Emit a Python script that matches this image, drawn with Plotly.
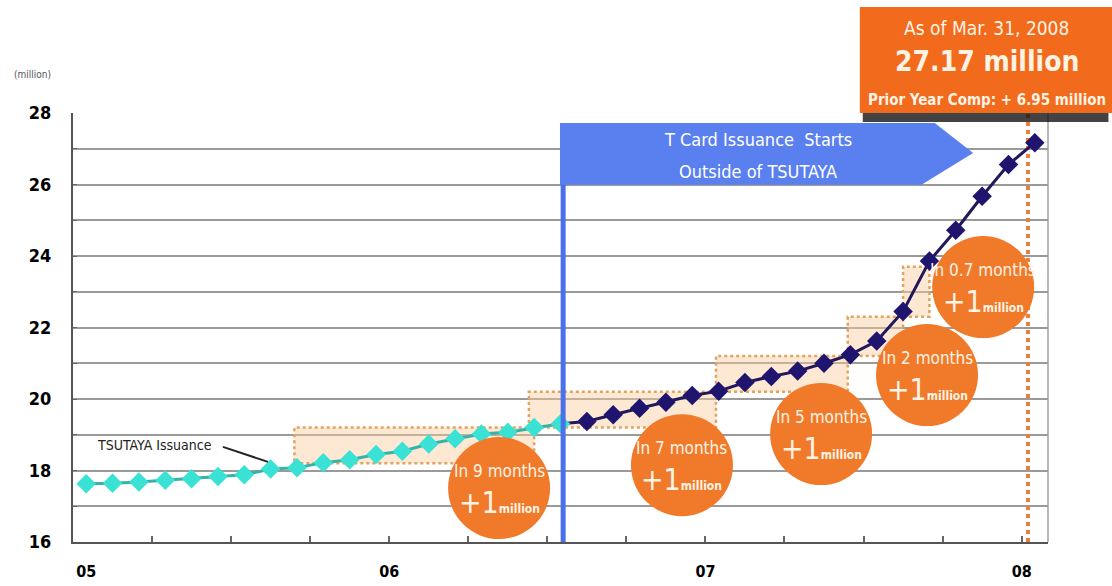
import plotly.graph_objects as go

# ---------------- data ----------------
months = list(range(37))  # 0 = first month of the '05 period, one point per month
values = [17.63, 17.64, 17.68, 17.73, 17.77, 17.83, 17.88, 18.04, 18.08, 18.22,
          18.30, 18.45, 18.54, 18.74, 18.89, 19.02, 19.07, 19.20, 19.31, 19.37,
          19.56, 19.74, 19.91, 20.10, 20.22, 20.46, 20.63, 20.78, 21.00, 21.24,
          21.62, 22.45, 23.86, 24.72, 25.67, 26.56, 27.17]
split_index = 18  # last month of TSUTAYA-only issuance

year_label_positions = [0.0, 11.5, 23.5, 35.5]
year_labels = ["05", "06", "07", "08"]
quarter_ticks = [-0.5 + 3 * k for k in range(13)]

y_ticks = list(range(16, 29))
y_tick_labels = [str(v) if v % 2 == 0 else "" for v in y_ticks]

step_x0 = [7.9, 16.8, 23.9, 28.9, 31.0]
step_x1 = [17.0, 23.9, 28.9, 31.0, 32.0]
step_y0 = [18.2, 19.2, 20.2, 21.2, 22.3]
step_y1 = [19.2, 20.2, 21.2, 22.3, 23.7]

circle_labels = ["In 9 months", "In 7 months", "In 5 months", "In 2 months", "In 0.7 months"]
circle_x = [15.67, 22.61, 27.89, 31.91, 34.04]
circle_y = [17.51, 18.15, 19.02, 20.67, 23.13]

FONT = "DejaVu Sans Condensed, Liberation Sans Narrow, sans-serif"
ORANGE = "#f07a2a"
BLUE = "#4a70ea"
CREAM = "#fff3e4"

fig = go.Figure()

# outside-TSUTAYA series (drawn first, starts at the split point)
fig.add_trace(go.Scatter(
    x=months[split_index:], y=values[split_index:], mode="lines+markers",
    line=dict(color="#22185a", width=3),
    marker=dict(symbol="diamond", size=[0] + [15] * (len(months) - split_index - 1),
                color="#20156e", opacity=1, line=dict(width=0)),
    showlegend=False, hoverinfo="skip"))

# TSUTAYA series
fig.add_trace(go.Scatter(
    x=months[:split_index + 1], y=values[:split_index + 1], mode="lines+markers",
    line=dict(color="#34b3ab", width=3),
    marker=dict(symbol="diamond", size=15, color="#3ae2d6", opacity=1, line=dict(width=0)),
    showlegend=False, hoverinfo="skip"))

# invisible trace to carry the quarter tick axis
fig.add_trace(go.Scatter(x=[None], y=[None], xaxis="x2", showlegend=False, hoverinfo="skip"))

shapes = []
for x0, x1, y0, y1 in zip(step_x0, step_x1, step_y0, step_y1):
    shapes.append(dict(type="rect", xref="x", yref="y", x0=x0, x1=x1, y0=y0, y1=y1,
                       fillcolor="rgba(250,205,160,0.45)",
                       line=dict(color="#e2a35c", width=2.5, dash="dot"),
                       layer="between"))

# right border of plot
shapes.append(dict(type="line", xref="paper", yref="paper", x0=1, x1=1, y0=0, y1=1,
                   line=dict(color="#a0a0a0", width=1.5), layer="between"))

# orange dotted line at end of period
shapes.append(dict(type="line", xref="x", yref="y", x0=35.74, x1=35.74, y0=16, y1=28,
                   line=dict(color="#ef7d3a", width=4, dash="dot"), layer="between"))

# blue vertical line + arrow
shapes.append(dict(type="line", xref="x", yref="y", x0=18.1, x1=18.1, y0=16, y1=27.72,
                   line=dict(color=BLUE, width=5), layer="above"))
shapes.append(dict(type="path", xref="x", yref="y",
                   path="M 17.98,27.72 L 32.2,27.72 L 33.66,26.88 L 31.7,25.99 L 17.98,25.99 Z",
                   fillcolor="#5a80f0", line=dict(width=0), layer="above"))

# orange circles
for cx, cy in zip(circle_x, circle_y):
    shapes.append(dict(type="circle", xref="x", yref="y", xsizemode="pixel", ysizemode="pixel",
                       xanchor=cx, yanchor=cy, x0=-51, x1=51, y0=-51, y1=51,
                       fillcolor=ORANGE, line=dict(width=0), layer="above"))

# top-right callout box: shadow + box
shapes.append(dict(type="rect", xref="paper", yref="paper",
                   x0=0.810, x1=1.062, y0=0.979, y1=1.005,
                   fillcolor="rgba(20,20,20,0.8)", line=dict(width=0), layer="above"))
shapes.append(dict(type="rect", xref="paper", yref="paper",
                   x0=0.807, x1=1.07, y0=1.0, y1=1.247,
                   fillcolor="#f26a1b", line=dict(width=0), layer="above"))

annotations = []
for lab, cx, cy in zip(circle_labels, circle_x, circle_y):
    annotations.append(dict(
        x=cx, y=cy, xref="x", yref="y", showarrow=False, xanchor="center", yanchor="middle",
        yshift=17, text=lab, font=dict(family=FONT, size=17, color=CREAM)))
    annotations.append(dict(
        x=cx, y=cy, xref="x", yref="y", showarrow=False, xanchor="center", yanchor="middle",
        yshift=-14,
        text="<span style='font-size:30px'>+1</span><b><span style='font-size:12px'>million</span></b>",
        font=dict(family=FONT, size=12, color=CREAM)))

annotations += [
    dict(x=25.5, y=27.245, xref="x", yref="y", showarrow=False, xanchor="center",
         text="T Card Issuance  Starts", font=dict(family=FONT, size=18, color="white")),
    dict(x=25.5, y=26.35, xref="x", yref="y", showarrow=False, xanchor="center",
         text="Outside of TSUTAYA", font=dict(family=FONT, size=18, color="white")),
    dict(x=0.9374, y=1.198, xref="paper", yref="paper", showarrow=False, xanchor="center",
         yanchor="middle", text="As of Mar. 31, 2008",
         font=dict(family=FONT, size=19, color=CREAM)),
    dict(x=0.9374, y=1.119, xref="paper", yref="paper", showarrow=False, xanchor="center",
         yanchor="middle", text="<b>27.17 million</b>",
         font=dict(family=FONT, size=28, color=CREAM)),
    dict(x=0.9374, y=1.030, xref="paper", yref="paper", showarrow=False, xanchor="center",
         yanchor="middle", text="<b>Prior Year Comp: + 6.95 million</b>",
         font=dict(family=FONT, size=15, color=CREAM)),
    dict(x=-0.042, y=1.089, xref="paper", yref="paper", showarrow=False, xanchor="center",
         yanchor="middle", text="(million)", font=dict(family=FONT, size=10, color="#555555")),
    dict(x=2.6, y=18.72, xref="x", yref="y", showarrow=False, xanchor="center",
         yanchor="middle", text="TSUTAYA Issuance",
         font=dict(family=FONT, size=14, color="#222222")),
]

# leader line for TSUTAYA Issuance label
shapes.append(dict(type="line", xref="x", yref="y", x0=5.19, y0=18.66, x1=6.9, y1=18.24,
                   line=dict(color="#222222", width=2), layer="above"))

fig.update_layout(
    width=1112, height=586, autosize=False,
    margin=dict(l=73, r=64, t=113, b=44, autoexpand=False),
    paper_bgcolor="white", plot_bgcolor="white",
    shapes=shapes, annotations=annotations, showlegend=False,
    xaxis=dict(range=[-0.5, 36.5], tickmode="array", automargin=False,
               tickvals=year_label_positions, ticktext=year_labels,
               ticks="", showgrid=False, zeroline=False,
               showline=True, linecolor="#555555", linewidth=2,
               ticklabelstandoff=14,
               tickfont=dict(family=FONT, size=16, color="black", weight="bold")),
    xaxis2=dict(range=[-0.5, 36.5], overlaying="x", anchor="y", side="bottom", automargin=False,
                tickmode="array", tickvals=quarter_ticks, showticklabels=False,
                ticks="inside", ticklen=6, tickcolor="#666666", tickwidth=1.5,
                showgrid=False, zeroline=False, showline=False),
    yaxis=dict(range=[16, 28], tickmode="array", tickvals=y_ticks, ticktext=y_tick_labels,
               automargin=False,
               ticks="inside", ticklen=4, tickcolor="#666666",
               showgrid=True, gridcolor="#9a9a9a", gridwidth=1.5, zeroline=False,
               showline=True, linecolor="#555555", linewidth=2,
               ticklabelstandoff=16,
               tickfont=dict(family=FONT, size=18, color="black", weight="bold")),
)

fig.write_html("out.html")
